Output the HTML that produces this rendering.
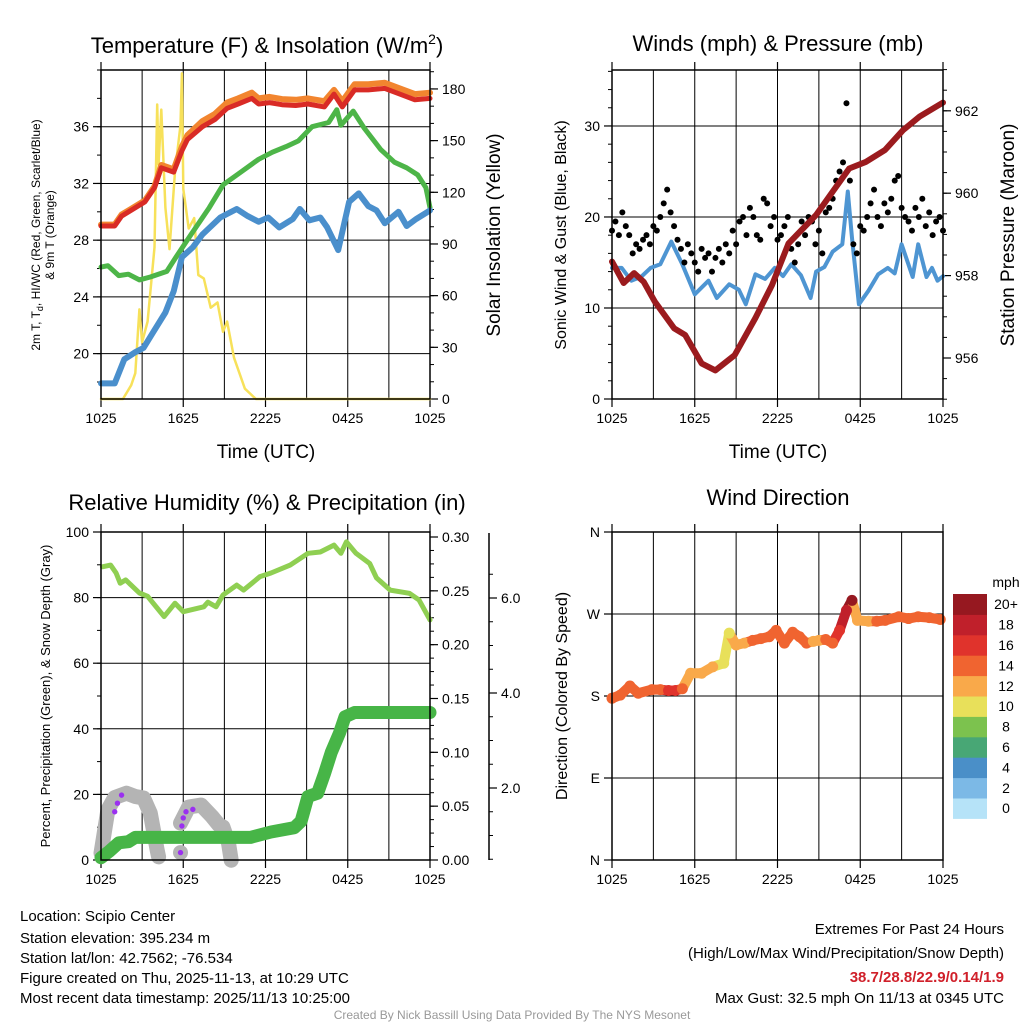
<!DOCTYPE html>
<html><head><meta charset="utf-8">
<style>
html,body{margin:0;padding:0;background:#fff;}
svg{display:block;font-family:"Liberation Sans",sans-serif;}
</style></head>
<body>
<svg id="c" width="1024" height="1024" viewBox="0 0 1024 1024" xmlns="http://www.w3.org/2000/svg">
<rect width="1024" height="1024" fill="#fff"/>
<text x="267" y="53" font-size="22" text-anchor="middle">Temperature (F) &amp; Insolation (W/m<tspan font-size="14" dy="-9">2</tspan><tspan dy="9">)</tspan></text>
<text x="778" y="51" font-size="22" text-anchor="middle">Winds (mph) &amp; Pressure (mb)</text>
<text x="267" y="510" font-size="22" text-anchor="middle">Relative Humidity (%) &amp; Precipitation (in)</text>
<text x="778" y="505" font-size="22" text-anchor="middle">Wind Direction</text>
<text transform="translate(40,235) rotate(-90)" font-size="12" text-anchor="middle">2m T, T<tspan font-size="9" dy="3">d</tspan><tspan dy="-3">, HI/WC (Red, Green, Scarlet/Blue)</tspan></text>
<text transform="translate(54,235) rotate(-90)" font-size="12" text-anchor="middle">&amp; 9m T (Orange)</text>
<text transform="translate(500,235) rotate(-90)" font-size="19" text-anchor="middle">Solar Insolation (Yellow)</text>
<text transform="translate(566,235) rotate(-90)" font-size="16" text-anchor="middle">Sonic Wind &amp; Gust (Blue, Black)</text>
<text transform="translate(1014,235) rotate(-90)" font-size="19" text-anchor="middle">Station Pressure (Maroon)</text>
<text transform="translate(50,696) rotate(-90)" font-size="13" text-anchor="middle">Percent, Precipitation (Green), &amp; Snow Depth (Gray)</text>
<text transform="translate(567,696) rotate(-90)" font-size="16" text-anchor="middle">Direction (Colored By Speed)</text>
<text x="266" y="458" font-size="19" text-anchor="middle">Time (UTC)</text>
<text x="778" y="458" font-size="19" text-anchor="middle">Time (UTC)</text>
<g font-size="15">
<text x="20" y="921">Location: Scipio Center</text>
<text x="20" y="943">Station elevation: 395.234 m</text>
<text x="20" y="963">Station lat/lon: 42.7562; -76.534</text>
<text x="20" y="983">Figure created on Thu, 2025-11-13, at 10:29 UTC</text>
<text x="20" y="1003">Most recent data timestamp: 2025/11/13 10:25:00</text>
</g>
<g font-size="15" text-anchor="end">
<text x="1004" y="934">Extremes For Past 24 Hours</text>
<text x="1004" y="958">(High/Low/Max Wind/Precipitation/Snow Depth)</text>
<text x="1004" y="982" fill="#d0202a" font-weight="bold">38.7/28.8/22.9/0.14/1.9</text>
<text x="1004" y="1003">Max Gust: 32.5 mph On 11/13 at 0345 UTC</text>
</g>
<text x="512" y="1019" font-size="12" fill="#999" text-anchor="middle">Created By Nick Bassill Using Data Provided By The NYS Mesonet</text>
</svg>
<script>
// ---- data ----
const xTickLabels = ["1025","1625","2225","0425","1025"];
const redT = [0,1,1.5,3.2,3.9,4.4,5.3,5.9,6.3,7.4,8.3,9.2,10,11,11.5,12.3,13.2,14.2,15.1,16.3,17,17.6,18.5,19.5,20.7,21.8,22.9,24];
const redV = [29,29,29.7,30.7,31.7,33.1,32.8,34.3,35.1,36,36.5,37.3,37.6,38,37.6,37.7,37.55,37.5,37.6,37.4,38.3,37.4,38.6,38.6,38.7,38.3,37.9,38];
const orangeV = [29.1,29.1,29.8,30.8,31.8,33.3,33,34.6,35.4,36.4,36.9,37.7,38,38.4,38,38.1,37.95,37.9,38,37.8,38.6,37.8,39,39,39.1,38.7,38.3,38.4];
const greenT = [0,0.5,1.3,2,2.8,3.6,4.8,5.5,6.5,7.9,8.9,10.2,11.5,12.5,13.5,14.4,15.4,16.6,17.2,17.5,18.4,19.2,20.4,21.4,22.3,23.1,23.7,24];
const greenV = [26.1,26.2,25.5,25.6,25.2,25.4,25.8,26.85,28.3,30.3,31.9,32.8,33.7,34.2,34.6,35,36,36.3,37.2,36.1,37.1,35.9,34.4,33.5,33.1,32.6,31.7,30.3];
const blueT = [0,1,1.7,2.5,3.1,3.8,4.7,5.3,5.9,6.7,7.4,8.7,9.9,10.7,11.5,12.2,13,14,14.5,15.2,16,16.5,17.3,18.1,18.8,19.5,20.1,20.7,21.7,22.3,23,24];
const blueV = [17.9,17.9,19.6,20.1,20.4,21.5,22.9,24.4,26.8,27.5,28.4,29.6,30.2,29.7,29.3,29.6,28.9,29.5,30.2,29.4,29.6,28.9,27.3,30.7,31.3,30.4,30.1,29.2,30,29,29.5,30.1];
const solarT = [0,1.6,2.2,2.5,2.8,3,3.4,3.9,4.1,4.2,4.4,4.7,5,5.4,5.8,5.9,6,6.4,6.8,7.1,7.5,8,8.5,8.9,9.2,9.7,10.5,11.3,24];
const solarV = [0,0,8,15,52,33,45,88,171,136,168,111,87,132,159,189,122,99,105,72,70,53,56,39,45,24,6,0,0];
const windT = [0,0.7,1.4,2.1,2.8,3.5,4.3,5.1,6,7,7.6,8.5,9.2,9.7,10.4,11.1,11.8,12.4,13,13.7,14.4,14.8,15.4,16,16.7,17.1,17.4,17.9,18.6,19.3,20,20.5,21,21.8,22.2,22.8,23.2,23.6,24];
const windV = [14.4,14.4,13,13.4,14.4,14.8,17.3,14.8,11.5,13,11.1,12.6,12,10.4,13.7,13.2,14.4,13.5,14.8,13.6,11.1,14,14.5,16.2,17,22.8,17.7,10.4,11.9,13.7,14.4,13.8,17,13.4,17,13.4,14.4,13,13.5];
const gustV = [18.5,19.5,18,20.5,19,18,16,17, 16.5,17.5,18,17,19,18.5,20,21.5, 23,20.5,19,17.5,16.5,15,17,16, 15,14,16.5,15.5,16,14,15.5,16.5, 15,17,16,18.5,17,19.5,20,18, 21,20,18,17.5,22,21.5,19,20, 17.5,18,19,20,16.5,15,17,19.5, 18,20,19.5,17,18.5,16,20.5,21, 22,24,25,26,32.5,24,17,16, 19,18.5,20,21.5,23,20,19,21.5, 20.5,22,24,24.5,21,20,19.5,18.5, 21,20,22,19,20.5,18,19.5,20,18.5];
const pressT = [0,0.85,1.6,2.3,3.1,4.5,5.3,6.5,7.5,8.9,10.4,11.6,12.8,14.8,16,17.2,18.4,19.8,21.1,22.3,24];
const pressV = [958.34,957.82,958.06,957.85,957.37,956.72,956.56,955.87,955.7,956.07,956.97,957.77,958.78,959.47,960.04,960.6,960.76,961.05,961.53,961.86,962.2];
const rhT = [0.1,0.7,1.1,1.4,1.8,2.8,3.4,4.6,5.4,6,7.5,7.8,8.4,8.9,9.9,10.4,11.6,12.4,13.8,15.1,16,17,17.5,17.9,18.6,19.6,20.1,21.1,22.5,23.2,24];
const rhV = [89.4,89.9,87.5,84.4,85.4,81.4,80.4,74.2,78.3,75.7,77.2,78.6,77.2,80.8,83.8,82.3,86.4,87.5,89.9,93.5,93.9,96,93.5,97,93.5,90.4,86,82.3,81.3,79.3,73.2];
const precipT = [0,0.6,1.3,2,2.5,10.9,12.4,14.1,14.6,15.1,15.8,16.3,16.8,17.4,17.8,18.5,24];
const precipV = [0.002,0.008,0.016,0.017,0.021,0.021,0.026,0.03,0.036,0.059,0.062,0.08,0.1,0.118,0.133,0.137,0.137];
const snow1T = [0,0.5,1.0,1.87,2.5,3.1,3.6,4.1,4.2];
const snow1V = [0.63,1.54,1.8,1.89,1.82,1.79,1.47,0.69,0.55];
const snow2T = [5.8,6.4,7.3,8.1,8.6,8.9,9.3,9.5];
const snow2V = [1.26,1.6,1.64,1.4,1.22,1.18,0.84,0.48];
const snowDotT = [5.8];
const snowDotV = [0.64];
const purpleT = [1.0,1.2,1.5,5.8,5.9,6.0,6.2,6.7];
const purpleV = [1.5,1.68,1.85,0.64,1.2,1.37,1.5,1.55];
const dirT = [0,0.6,1.3,1.9,2.9,3.5,4.1,4.6,5.1,5.7,6.5,7.3,8.1,8.5,9,9.6,10.2,10.8,11.4,11.9,12.5,13.1,13.6,14.1,14.6,15,15.5,16,16.5,17,17.4,17.8,18.6,19.2,19.8,20.8,21.5,22.2,23,23.8];
const dirV = [177.5,181,191,183,187,187,186,186,188,205,205,212,216,249,236,238,241,243,245,252,238,250,245,238,240,241,242,238,252,274,285,263,262,262,263,267,265,267,266,264];
const dirSpeed = [15,14,15,14,14,14,16,17,14,12,12,12,11,10,12,13,14,14,14,14,14,15,14,14,12,12,14,14,17,19,20,12,12,14,14,15,14,15,14,14];
const speedColors = ["#b6e3f8","#7cb9e6","#4a8fc8","#48a775","#7cc24e","#e8e05a","#f9a94a","#f06430","#e0332c","#c0202b","#961820"];
const speedLabels = ["0","2","4","6","8","10","12","14","16","18","20+"];

// ---- helpers ----
const NS="http://www.w3.org/2000/svg";
const svg=document.getElementById('c');
function el(tag,attrs,parent){const e=document.createElementNS(NS,tag);for(const k in attrs)e.setAttribute(k,attrs[k]);(parent||svg).appendChild(e);return e;}
function lin(d0,d1,r0,r1){return v=>r0+(v-d0)*(r1-r0)/(d1-d0);}
function pathD(ts,vs,X,Y){return ts.map((t,i)=>(i?'L':'M')+X(t).toFixed(1)+','+Y(vs[i]).toFixed(1)).join(' ');}
function idxT(n){return Array.from({length:n},(_,i)=>i*24/(n-1));}
function frame(x0,y0,x1,y1,X,name){
  const g=el('g',{});
  
  
  for(let h=3;h<24;h+=3){el('line',{x1:X(h),x2:X(h),y1:y0,y2:y1,stroke:'#000','stroke-width':1},g);}
  for(let h=0;h<=24;h+=6){
    el('line',{x1:X(h),x2:X(h),y1:y1,y2:y1+8,stroke:'#000','stroke-width':1.2},g);
    el('line',{x1:X(h),x2:X(h),y1:y0,y2:y0-8,stroke:'#000','stroke-width':1.2},g);
    const t=el('text',{x:X(h),y:y1+24,'font-size':14,'text-anchor':'middle'},g);
    
    
    t.textContent=xTickLabels[h/6];
  }
  return g;
}
function border(x0,y0,x1,y1,name){const r=el('rect',{x:x0,y:y0,width:x1-x0,height:y1-y0,fill:'none',stroke:'#000','stroke-width':1.5});
  
  }
function yAxis(vals,labels,Y,x,side,grid,x0,x1,minor,fs){
  const g=el('g',{});
  
  
  const dir=side==='left'?-1:1;
  if(minor)minor.forEach(v=>el('line',{x1:x,x2:x+dir*4,y1:Y(v),y2:Y(v),stroke:'#000'},g));
  vals.forEach((v,i)=>{
    const y=Y(v);
    if(grid)el('line',{x1:x0,x2:x1,y1:y,y2:y,stroke:'#000','stroke-width':1},g);
    el('line',{x1:x,x2:x+dir*8,y1:y,y2:y,stroke:'#000','stroke-width':1.2},g);
    const t=el('text',{x:x+dir*12,y:y+5,'font-size':fs||14,'text-anchor':side==='left'?'end':'start'},g);
    t.textContent=labels[i];
  });
}
function line(ts,vs,X,Y,color,w,name){
  const p=el('path',{d:pathD(ts,vs,X,Y),fill:'none',stroke:color,'stroke-width':w,'stroke-linejoin':'round','stroke-linecap':'round'});
  
  
  return p;
}

// ---- Panel 1: temperature ----
{
const X=lin(0,24,101,430), Y=lin(16.8,40,399,70), S=lin(0,191,399,70);
frame(101,70,430,399,X,'temp');
const mn=[];for(let v=18;v<=40;v+=2)mn.push(v);
yAxis([20,24,28,32,36],["20","24","28","32","36"],Y,101,'left',true,101,430,mn);
const mn2=[];for(let v=0;v<=190;v+=10)mn2.push(v);
yAxis([0,30,60,90,120,150,180],["0","30","60","90","120","150","180"],S,430,'right',false,0,0,mn2);
line(solarT,solarV,X,S,'#f7e15a',2.5,'solar-insolation-line');
line(greenT,greenV,X,Y,'#4db548',5,'dewpoint-line');
line(blueT,blueV,X,Y,'#4a8fcc',6,'wind-chill-line');
line(redT,orangeV,X,Y,'#f2852f',6,'temp-9m-line');
line(redT,redV,X,Y,'#d92b26',5,'temp-2m-line');
border(101,70,430,399,'temp');
}

// ---- Panel 2: winds & pressure ----
{
const X=lin(0,24,612,943), Y=lin(0,36.15,399,70), P=lin(956,962,358,110.8);
frame(612,70,943,399,X,'wind');
const mn=[];for(let v=0;v<=36;v+=2)mn.push(v);
yAxis([0,10,20,30],["0","10","20","30"],Y,612,'left',true,612,943,mn);
const mn2=[];for(let v=955;v<=963;v+=0.5)mn2.push(v);
yAxis([956,958,960,962],["956","958","960","962"],P,943,'right',false,0,0,mn2);
line(windT,windV,X,Y,'#4e95d2',4,'sonic-wind-line');
const gt=idxT(gustV.length);
gustV.forEach((v,i)=>{const c=el('circle',{cx:X(gt[i]),cy:Y(v),r:3,fill:'#000'});

});
line(pressT,pressV,X,P,'#9b1b1e',6,'pressure-line');
border(612,70,943,399,'wind');
}

// ---- Panel 3: RH & precip ----
{
const X=lin(0,24,101,430), Y=lin(0,100,860,532), Pr=lin(0,0.3,860,537), Sn=lin(0,6,883,598);
frame(101,532,430,860,X,'humidity');
const mn=[];for(let v=0;v<=100;v+=10)mn.push(v);
yAxis([0,20,40,60,80,100],["0","20","40","60","80","100"],Y,101,'left',true,101,430,mn);
const mn2=[];for(let v=0;v<=0.3;v+=0.0125)mn2.push(v);
yAxis([0,0.05,0.1,0.15,0.2,0.25,0.3],["0.00","0.05","0.10","0.15","0.20","0.25","0.30"],Pr,430,'right',false,0,0,mn2);
const ax=el('line',{x1:489,x2:489,y1:533,y2:860,stroke:'#000','stroke-width':1.5});


const mn3=[];for(let v=0.5;v<=6.9;v+=0.5)mn3.push(v);
yAxis([2,4,6],["2.0","4.0","6.0"],Sn,489,'right',false,0,0,mn3);
line(snow1T,snow1V,X,Sn,'#b4b4b4',15,'snow-depth-line');
line(snow2T,snow2V,X,Sn,'#b4b4b4',15,'snow-depth-line');
snowDotT.forEach((t,i)=>{const c=el('circle',{cx:X(t),cy:Sn(snowDotV[i]),r:7.5,fill:'#b4b4b4'});

});
purpleT.forEach((t,i)=>{const c=el('circle',{cx:X(t),cy:Sn(purpleV[i]),r:2.7,fill:'#9b30f0'});

});
line(rhT,rhV,X,Y,'#8fcf52',5,'relative-humidity-line');
line(precipT,precipV,X,Pr,'#47b547',13,'precipitation-line');
border(101,532,430,860,'humidity');
}

// ---- Panel 4: wind direction ----
{
const X=lin(0,24,612,943), D=lin(0,360,860,532);
frame(612,532,943,860,X,'direction');
yAxis([0,90,180,270,360],["N","E","S","W","N"],D,612,'left',true,612,943,null);
const col=s=>speedColors[Math.min(10,Math.floor(s/2))];
for(let i=1;i<dirV.length;i++){
  const l=el('line',{x1:X(dirT[i-1]),y1:D(dirV[i-1]),x2:X(dirT[i]),y2:D(dirV[i]),stroke:col(dirSpeed[i]),'stroke-width':10,'stroke-linecap':'round'});
  
  
}
dirV.forEach((v,i)=>{const c=el('circle',{cx:X(dirT[i]),cy:D(v),r:5.5,fill:col(dirSpeed[i])});

});
border(612,532,943,860,'direction');
const cb=el('g',{});


const t0=el('text',{x:1006,y:587,'font-size':14,'text-anchor':'middle'},cb);t0.textContent='mph';
const bh=20.4;
for(let i=0;i<11;i++){
  const y=594+(10-i)*bh;
  el('rect',{x:953,y:y,width:34,height:bh+0.5,fill:speedColors[i]},cb);
  const t=el('text',{x:1006,y:y+bh/2+5,'font-size':14,'text-anchor':'middle'},cb);
  t.textContent=speedLabels[i];
}
}
</script>
</body></html>
